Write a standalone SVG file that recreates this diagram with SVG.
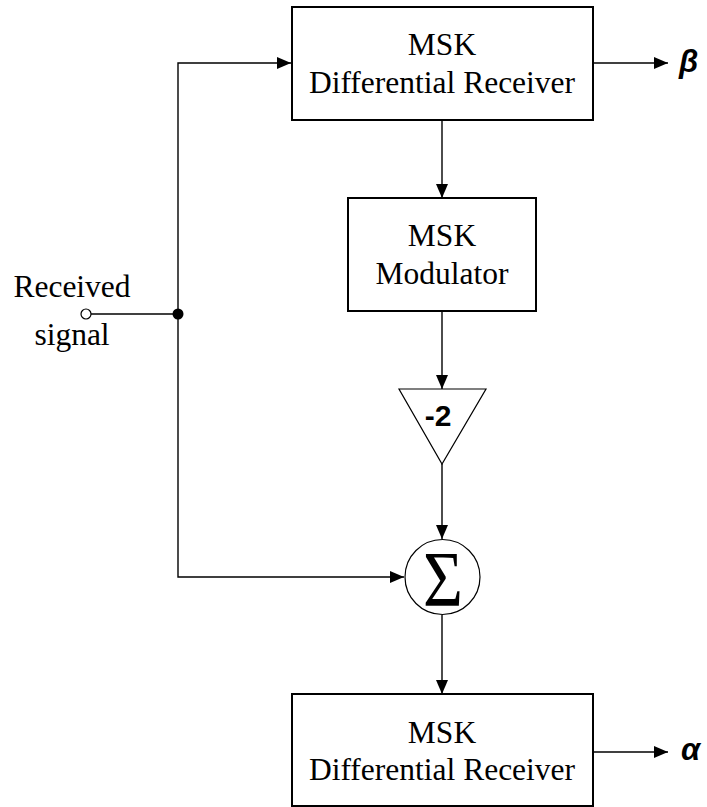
<svg xmlns="http://www.w3.org/2000/svg" width="707" height="807" viewBox="0 0 707 807">
  <style>
    .box { fill: #fff; stroke: #000; stroke-width: 2; }
    .wire { fill: none; stroke: #000; stroke-width: 1.4; }
    .lbl { font-family: "Liberation Serif", "Times New Roman", serif; font-size: 31.5px; fill: #000; text-anchor: middle; }
    .sym { font-family: "Liberation Sans", Arial, sans-serif; font-weight: bold; font-style: italic; font-size: 31px; fill: #000; }
  </style>
  <defs>
    <marker id="arrow" markerWidth="14" markerHeight="12" refX="14" refY="6" orient="auto" markerUnits="userSpaceOnUse">
      <path d="M0,0 L14,6 L0,12 Z" fill="#000"/>
    </marker>
  </defs>

  <!-- connectors -->
  <g id="connectors">
    <!-- input terminal to junction -->
    <line class="wire" x1="91" y1="314" x2="178" y2="314"/>
    <!-- junction up to the first receiver -->
    <polyline class="wire" points="178,314 178,63 291,63" marker-end="url(#arrow)"/>
    <!-- junction down to the summer -->
    <polyline class="wire" points="178,314 178,577 404,577" marker-end="url(#arrow)"/>
    <!-- receiver to modulator -->
    <line class="wire" x1="442" y1="121" x2="442" y2="198" marker-end="url(#arrow)"/>
    <!-- modulator to gain -->
    <line class="wire" x1="442" y1="311" x2="442" y2="389" marker-end="url(#arrow)"/>
    <!-- gain to summer -->
    <line class="wire" x1="442" y1="464" x2="442" y2="539" marker-end="url(#arrow)"/>
    <!-- summer to second receiver -->
    <line class="wire" x1="442" y1="615" x2="442" y2="694" marker-end="url(#arrow)"/>
    <!-- outputs -->
    <line class="wire" x1="593" y1="63" x2="668" y2="63" marker-end="url(#arrow)"/>
    <line class="wire" x1="593" y1="752" x2="668" y2="752" marker-end="url(#arrow)"/>
  </g>

  <!-- input terminal -->
  <g id="input">
    <circle cx="86" cy="314" r="5" fill="#fff" stroke="#000" stroke-width="1.2"/>
    <text class="lbl" x="72" y="297">Received</text>
    <text class="lbl" x="72" y="345">signal</text>
  </g>

  <!-- junction dot -->
  <g id="junction">
    <circle cx="178" cy="314" r="5.5" fill="#000"/>
  </g>

  <g id="receiver1">
    <rect class="box" x="292" y="7" width="301" height="113"/>
    <text class="lbl" x="442" y="55">MSK</text>
    <text class="lbl" x="442" y="93">Differential Receiver</text>
  </g>

  <g id="modulator">
    <rect class="box" x="348" y="198" width="188" height="113"/>
    <text class="lbl" x="442" y="246">MSK</text>
    <text class="lbl" x="442" y="284">Modulator</text>
  </g>

  <g id="gain">
    <polygon points="399,389 486,389 442,464" fill="#fff" stroke="#000" stroke-width="1.2"/>
    <text x="438" y="426" font-family="Liberation Sans, Arial, sans-serif" font-weight="bold" font-size="30" text-anchor="middle">-2</text>
  </g>

  <g id="summer">
    <circle cx="442.5" cy="577" r="37.5" fill="#fff" stroke="#000" stroke-width="1.2"/>
    <text x="443" y="605" font-family="Liberation Serif, Times New Roman, serif" font-size="78" text-anchor="middle" transform="translate(443 0) scale(0.88 1) translate(-443 0)">Σ</text>
  </g>

  <g id="receiver2">
    <rect class="box" x="292" y="694" width="301" height="112"/>
    <text class="lbl" x="442" y="743">MSK</text>
    <text class="lbl" x="442" y="780">Differential Receiver</text>
  </g>

  <g id="outputs">
    <text class="sym" x="679" y="72">β</text>
    <text class="sym" x="681" y="760">α</text>
  </g>
</svg>
